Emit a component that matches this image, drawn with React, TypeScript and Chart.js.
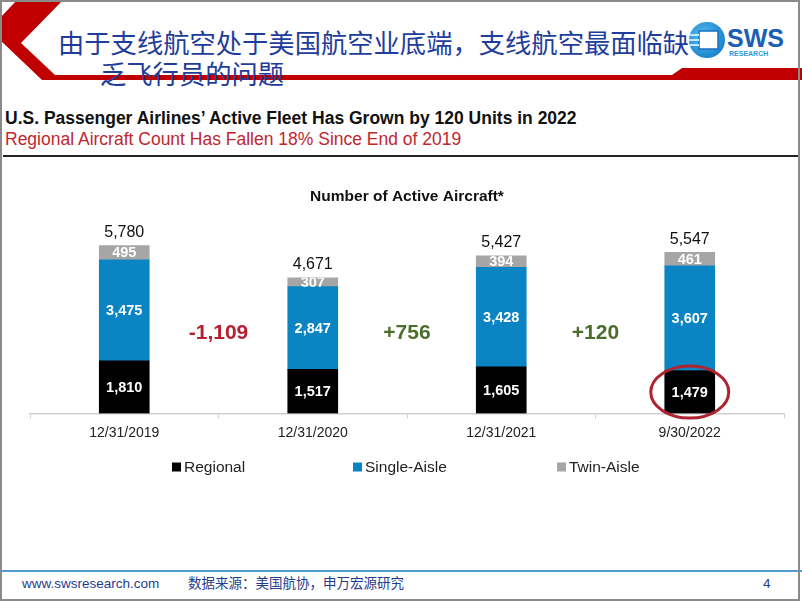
import React, { useEffect, useRef } from "react";
import { Chart, registerables } from "chart.js";

Chart.register(...registerables);

// ---- data ----
const categories = ["12/31/2019", "12/31/2020", "12/31/2021", "9/30/2022"];
const seriesNames = ["Regional", "Single-Aisle", "Twin-Aisle"];
const regional = [1810, 1517, 1605, 1479];
const singleAisle = [3475, 2847, 3428, 3607];
const twinAisle = [495, 307, 394, 461];
const changes = [-1109, 756, 120];
const chartTitle = "Number of Active Aircraft*";

const SERIES_COLORS = ["#000000", "#0b84c3", "#a6a6a6"];
const LATIN = "'Liberation Sans', Arial, sans-serif";
const CJK = "'Noto Sans CJK SC', 'Noto Sans', sans-serif";

const fmt = (v: number) => v.toLocaleString("en-US");
const fmtChange = (v: number) => (v > 0 ? "+" : "-") + fmt(Math.abs(v));

const annotatePlugin = {
  id: "annotate",
  afterDatasetsDraw(chart: any) {
    const ctx = chart.ctx as CanvasRenderingContext2D;
    const yScale = chart.scales.y;
    const area = chart.chartArea;
    ctx.save();
    ctx.textAlign = "center";
    ctx.textBaseline = "middle";

    // segment labels
    chart.data.datasets.forEach((ds: any, di: number) => {
      const meta = chart.getDatasetMeta(di);
      meta.data.forEach((el: any, i: number) => {
        const p = el.getProps(["x", "y", "base", "width"], true);
        ctx.save();
        ctx.beginPath();
        ctx.rect(p.x - p.width / 2, p.y, p.width, p.base - p.y);
        ctx.clip();
        ctx.fillStyle = "#ffffff";
        ctx.font = `bold 14.5px ${LATIN}`;
        ctx.fillText(fmt(ds.data[i]), p.x, (p.y + p.base) / 2 + 0.5);
        ctx.restore();
      });
    });

    // totals
    const lastMeta = chart.getDatasetMeta(chart.data.datasets.length - 1);
    const firstMeta = chart.getDatasetMeta(0);
    lastMeta.data.forEach((el: any, i: number) => {
      const total = chart.data.datasets.reduce((s: number, ds: any) => s + ds.data[i], 0);
      ctx.fillStyle = "#111111";
      ctx.font = `16px ${LATIN}`;
      ctx.fillText(fmt(total), el.x, yScale.getPixelForValue(total) - 13);
    });

    // changes between bars
    changes.forEach((c, i) => {
      const a = firstMeta.data[i] as any;
      const b = firstMeta.data[i + 1] as any;
      ctx.fillStyle = c < 0 ? "#b51f2e" : "#4b6e2a";
      ctx.font = `bold 21px ${LATIN}`;
      ctx.fillText(fmtChange(c), (a.x + b.x) / 2, yScale.getPixelForValue(2760));
    });

    // highlight ellipse around last regional segment
    const lastReg = firstMeta.data[firstMeta.data.length - 1] as any;
    const rp = lastReg.getProps(["x", "y", "base"], true);
    ctx.beginPath();
    ctx.ellipse(rp.x, (rp.y + rp.base) / 2, 39, 26, 0, 0, Math.PI * 2);
    ctx.strokeStyle = "#ae2430";
    ctx.lineWidth = 3;
    ctx.stroke();

    // legend
    const legendY = area.bottom + 53.5;
    const legendX = [172, 353, 557];
    chart.data.datasets.forEach((ds: any, di: number) => {
      const x = legendX[di];
      ctx.fillStyle = ds.backgroundColor;
      ctx.fillRect(x, legendY - 4.5, 9, 9);
      ctx.fillStyle = "#222222";
      ctx.font = `15.5px ${LATIN}`;
      ctx.textAlign = "left";
      ctx.fillText(ds.label, x + 12, legendY + 0.5);
    });
    ctx.restore();
  },
};

function AircraftChart() {
  const ref = useRef<HTMLCanvasElement | null>(null);
  useEffect(() => {
    if (!ref.current) return;
    const data = [regional, singleAisle, twinAisle];
    const chart = new Chart(ref.current, {
      type: "bar",
      data: {
        labels: categories,
        datasets: seriesNames.map((name, i) => ({
          label: name,
          data: data[i],
          backgroundColor: SERIES_COLORS[i],
          borderWidth: 0,
          barThickness: 50,
        })),
      },
      options: {
        animation: false,
        responsive: false,
        maintainAspectRatio: false,
        layout: { padding: { left: 30, right: 18, top: 0, bottom: 0 } },
        plugins: {
          legend: { display: false },
          tooltip: { enabled: false },
          title: {
            display: true,
            text: chartTitle,
            color: "#111111",
            font: { family: LATIN, size: 15.5, weight: "bold" },
            padding: { top: 17, bottom: 4.5 },
          },
        },
        scales: {
          x: {
            stacked: true,
            grid: {
              display: true,
              drawOnChartArea: false,
              drawTicks: true,
              tickLength: 5,
              color: "#d0d0d0",
              offset: true,
            },
            border: { display: true, color: "#cfcfcf", width: 1.5 },
            ticks: { color: "#222222", font: { family: LATIN, size: 14 }, padding: 6 },
            afterFit: (s: any) => {
              s.height = 76.5;
            },
          },
          y: {
            stacked: true,
            display: false,
            min: 0,
            max: 7000,
          },
        },
      } as any,
      plugins: [annotatePlugin],
    });
    return () => chart.destroy();
  }, []);
  return (
    <canvas
      ref={ref}
      width={802}
      height={320}
      style={{ position: "absolute", left: 0, top: 170, width: 802, height: 320 }}
    />
  );
}

export default function App() {
  return (
    <div
      style={{
        position: "fixed",
        left: 0,
        top: 0,
        width: 802,
        height: 602,
        overflow: "hidden",
        background: "#ffffff",
        fontFamily: LATIN,
      }}
    >
      <svg width={802} height={100} style={{ position: "absolute", left: 0, top: 0 }}>
        <polygon
          points="17,0 63,0 21,43 55,75 672,75 682,68 802,68 802,80 42,80 0,40 0,18"
          fill="#c00000"
        />
        <defs>
          <radialGradient id="lg" cx="0.4" cy="0.4" r="0.7">
            <stop offset="0" stopColor="#5cc0f0" />
            <stop offset="1" stopColor="#0f7bc8" />
          </radialGradient>
        </defs>
        <circle cx={707} cy={40} r={18} fill="url(#lg)" />
        <rect x={699} y={31} width={19} height={18} fill="#ffffff" stroke="#1a6fc0" strokeWidth={1.5} />
        <rect x={690} y={34} width={9} height={2} fill="#bfe6fa" />
        <rect x={689} y={39} width={10} height={2} fill="#bfe6fa" />
        <rect x={690} y={44} width={9} height={2} fill="#bfe6fa" />
        <text x={727} y={47} fontFamily={LATIN} fontWeight="bold" fontSize={25} fill="#1b5eb5">
          SWS
        </text>
        <text x={729} y={56} fontFamily={LATIN} fontWeight="bold" fontSize={7} fill="#2a9ad8">
          RESEARCH
        </text>
      </svg>
      <div
        style={{
          position: "absolute",
          left: 58,
          top: 29,
          fontFamily: CJK,
          fontSize: 26.3,
          lineHeight: "26px",
          color: "#1f3d9b",
          whiteSpace: "nowrap",
        }}
      >
        由于支线航空处于美国航空业底端，支线航空最面临缺
      </div>
      <div
        style={{
          position: "absolute",
          left: 100,
          top: 60,
          fontFamily: CJK,
          fontSize: 26.3,
          lineHeight: "26px",
          color: "#1f3d9b",
          whiteSpace: "nowrap",
        }}
      >
        乏飞行员的问题
      </div>
      <div
        style={{
          position: "absolute",
          left: 5,
          top: 110,
          fontSize: 17.5,
          lineHeight: "17px",
          fontWeight: "bold",
          color: "#111111",
          whiteSpace: "nowrap",
        }}
      >
        U.S. Passenger Airlines’ Active Fleet Has Grown by 120 Units in 2022
      </div>
      <div
        style={{
          position: "absolute",
          left: 5,
          top: 131,
          fontSize: 17.5,
          lineHeight: "17px",
          color: "#c0272d",
          whiteSpace: "nowrap",
        }}
      >
        Regional Aircraft Count Has Fallen 18% Since End of 2019
      </div>
      <div
        style={{ position: "absolute", left: 3, top: 155, width: 795, height: 2, background: "#222222" }}
      />
      <AircraftChart />
      <div
        style={{ position: "absolute", left: 0, top: 570, width: 802, height: 2, background: "#4a9fd0" }}
      />
      <div
        style={{
          position: "absolute",
          left: 22,
          top: 577,
          fontSize: 13.5,
          lineHeight: "13.5px",
          color: "#1f3d8a",
          whiteSpace: "nowrap",
        }}
      >
        www.swsresearch.com
      </div>
      <div
        style={{
          position: "absolute",
          left: 188,
          top: 576,
          fontFamily: CJK,
          fontSize: 13.5,
          lineHeight: "13.5px",
          color: "#1f3d8a",
          whiteSpace: "nowrap",
        }}
      >
        数据来源：美国航协，申万宏源研究
      </div>
      <div
        style={{
          position: "absolute",
          left: 763,
          top: 577,
          fontSize: 13.5,
          lineHeight: "13.5px",
          color: "#1f3d8a",
        }}
      >
        4
      </div>
      <div
        style={{
          position: "absolute",
          left: 0,
          top: 0,
          width: 800,
          height: 601,
          boxSizing: "border-box",
          border: "2px solid #8a8a8a",
          pointerEvents: "none",
        }}
      />
    </div>
  );
}
